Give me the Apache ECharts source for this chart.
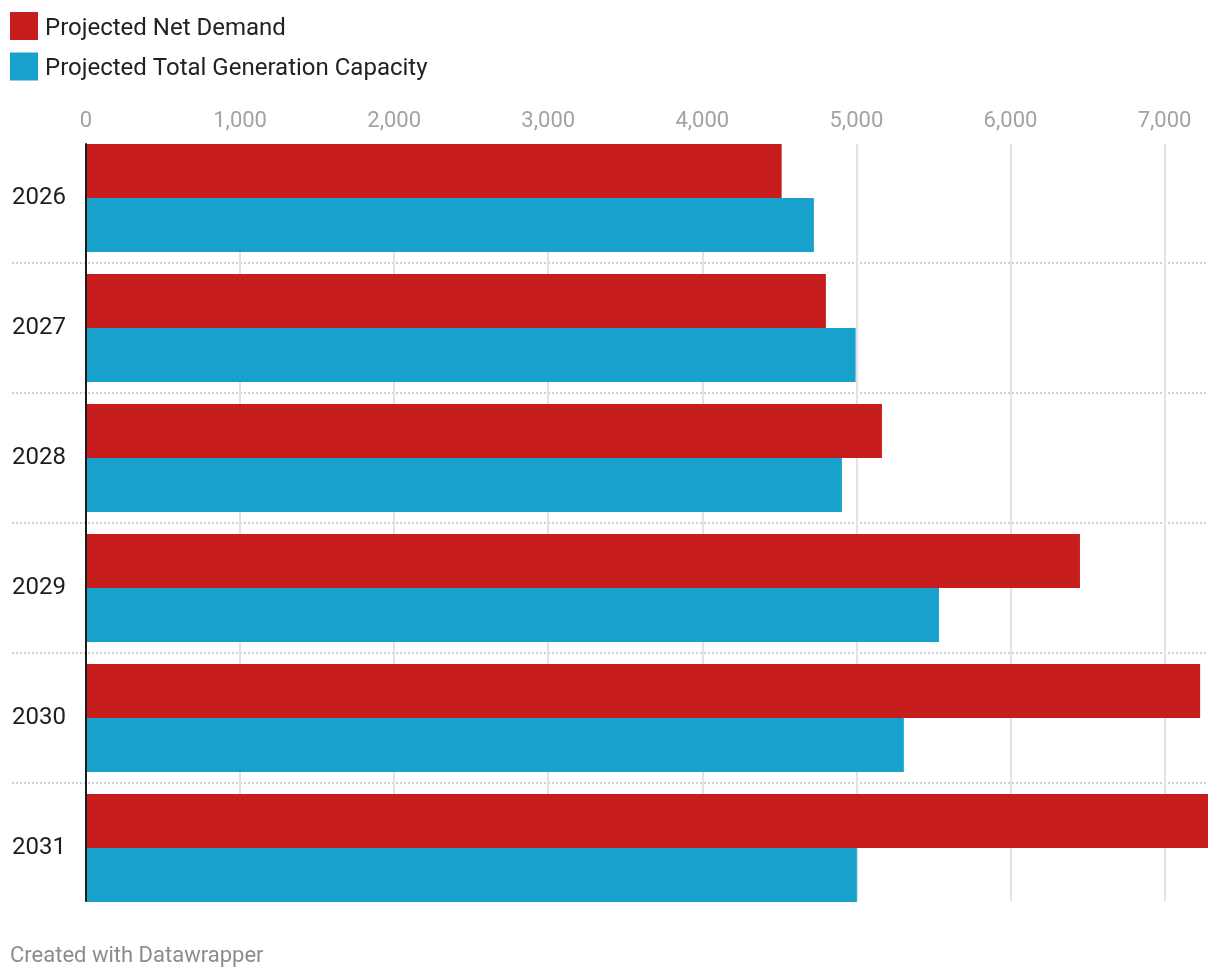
<!DOCTYPE html>
<html>
<head>
<meta charset="utf-8">
<script src="https://cdn.jsdelivr.net/npm/echarts@6/dist/echarts.min.js"></script>
<style>html,body{margin:0;padding:0;background:#fff;}#c{width:1220px;height:978px;}</style>
</head>
<body>
<div id="c"></div>
<script>
const years = ['2026', '2027', '2028', '2029', '2030', '2031'];
const netDemand = [4515, 4802, 5166, 6451, 7231, 7282];
const genCapacity = [4724, 4995, 4906, 5536, 5308, 5003];
const seriesNames = ['Projected Net Demand', 'Projected Total Generation Capacity'];
const xMax = 7282;
const xInterval = 1000;

const chart = echarts.init(document.getElementById('c'));
const FONT = 'Roboto, "Noto Sans", sans-serif';
chart.setOption({
  animation: false,
  textStyle: { fontFamily: FONT },
  legend: {
    orient: 'vertical', left: 10, top: 12, padding: 0,
    itemWidth: 28, itemHeight: 28, itemGap: 12,
    icon: 'rect',
    formatter: name => '{t|' + name + '}',
    textStyle: {
      fontSize: 24, color: '#222', fontFamily: FONT,
      rich: { t: { fontSize: 24, color: '#222', fontFamily: FONT, padding: [5, 0, 0, 2] } }
    },
    data: seriesNames
  },
  grid: [
    { left: 86, right: 12, top: 144, bottom: 77 },
    { left: 86, right: 12, top: 133, bottom: 65 },
    { left: 12, right: 12, top: 133, bottom: 65 }
  ],
  xAxis: [
    {
      gridIndex: 0, type: 'value', position: 'top', min: 0, max: xMax, interval: xInterval,
      axisLine: { show: false }, axisTick: { show: false },
      axisLabel: {
        fontSize: 22, color: '#a3a3a3', margin: 12, fontFamily: FONT,
        showMaxLabel: false,
        formatter: v => v.toLocaleString('en-US')
      },
      splitLine: { show: true, showMaxLine: false, lineStyle: { color: '#e3e3e3', width: 2 } }
    },
    { gridIndex: 1, type: 'value', min: 0, max: xMax, show: false },
    { gridIndex: 2, type: 'value', min: 0, max: 1, show: false }
  ],
  yAxis: [
    {
      gridIndex: 0, type: 'category', data: years, inverse: true, z: 10,
      axisLine: { show: true, lineStyle: { color: '#1a1a1a', width: 2 } },
      axisTick: { show: false }, axisLabel: { show: false }, splitLine: { show: false }
    },
    {
      gridIndex: 1, type: 'category', data: years, inverse: true, show: false
    },
    {
      gridIndex: 2, type: 'category', data: years, inverse: true,
      axisLine: { show: false }, axisTick: { show: false },
      axisLabel: { inside: true, align: 'left', margin: 0, fontSize: 24, color: '#1d1d1d', fontFamily: FONT },
      splitLine: { show: true, showMinLine: false, showMaxLine: false, lineStyle: { color: '#cfcfcf', width: 2, type: [2, 2] } }
    }
  ],
  series: [
    {
      name: seriesNames[0], type: 'bar', xAxisIndex: 1, yAxisIndex: 1,
      data: netDemand, barWidth: 54, barGap: '0%',
      itemStyle: { color: '#c71e1d' }
    },
    {
      name: seriesNames[1], type: 'bar', xAxisIndex: 1, yAxisIndex: 1,
      data: genCapacity, barWidth: 54, barGap: '0%',
      itemStyle: { color: '#18a1cd' }
    }
  ],
  graphic: [
    {
      type: 'text', left: 10, top: 945,
      style: { text: 'Created with Datawrapper', fontSize: 22, fill: '#8c8c8c', fontFamily: FONT }
    }
  ]
});
</script>
</body>
</html>
